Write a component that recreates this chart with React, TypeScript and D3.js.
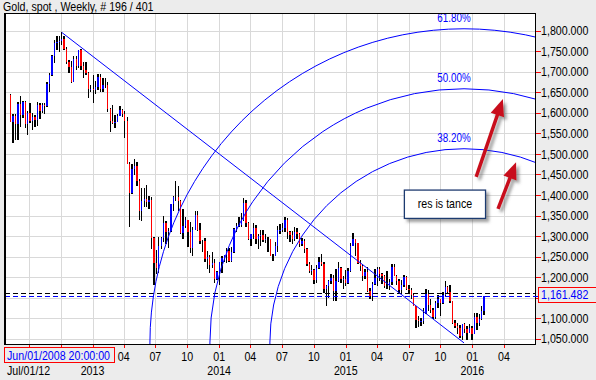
import React from 'react';
import * as d3 from 'd3';

const W = 596;
const H = 380;
const PLOT = { left: 5, right: 535, top: 14, bottom: 344 };
const FONT = "'Liberation Sans', Arial, sans-serif";
const NARROW = 0.82;

const TITLE = 'Gold, spot , Weekly, # 196 / 401';
const FIRST_WEEK = Date.UTC(2012, 4, 7);

// Weekly OHLC, gold spot, week of May 7 2012 .. week of Feb 1 2016
const opens = [
  1644, 1578, 1592, 1572, 1622, 1595, 1627, 1572, 1599, 1579, 1590, 1583, 1619, 1604, 1620, 1617, 1671, 1692, 1738, 1771,
  1773, 1774, 1781, 1756, 1724, 1712, 1676, 1730, 1715, 1752, 1713, 1704, 1697, 1657, 1657,
  1656, 1663, 1687, 1657, 1669, 1667, 1609, 1581, 1576, 1578, 1592, 1606, 1597, 1579, 1476, 1405, 1463, 1470, 1433, 1362,
  1386, 1391, 1383, 1387, 1295, 1234, 1223, 1277, 1295, 1332, 1309, 1313, 1377, 1395, 1396, 1386, 1308, 1325, 1338, 1310,
  1272, 1315, 1352, 1314, 1287, 1288, 1244, 1250, 1230, 1234, 1195, 1212,
  1238, 1247, 1254, 1264, 1240, 1262, 1318, 1324, 1327, 1339, 1380, 1333, 1294, 1304, 1319, 1294, 1301, 1302, 1291, 1294,
  1292, 1251, 1252, 1275, 1316, 1316, 1320, 1338, 1310, 1303, 1294, 1310, 1305, 1280, 1287, 1268, 1231, 1216, 1218, 1192,
  1222, 1238, 1231, 1170, 1178, 1190, 1197, 1167, 1191, 1222, 1195, 1195,
  1186, 1216, 1277, 1293, 1283, 1234, 1227, 1204, 1213, 1166, 1153, 1184, 1199, 1219, 1207, 1202, 1178, 1179, 1189, 1225,
  1204, 1190, 1168, 1181, 1201, 1172, 1168, 1157, 1131, 1096, 1094, 1094, 1113, 1160, 1133, 1121, 1103, 1138, 1146, 1137,
  1156, 1177, 1163, 1142, 1088, 1081, 1076, 1057, 1086, 1075, 1065, 1076,
  1061, 1104, 1089, 1097, 1117,
];
const highs = [
  1645, 1597, 1596, 1627, 1640, 1630, 1628, 1605, 1625, 1599, 1594, 1627, 1625, 1625, 1624, 1675, 1696, 1740, 1778, 1787,
  1786, 1796, 1786, 1760, 1728, 1726, 1738, 1738, 1754, 1755, 1723, 1725, 1700, 1668, 1693,
  1678, 1695, 1694, 1684, 1684, 1674, 1611, 1619, 1595, 1597, 1616, 1609, 1605, 1590, 1480, 1476, 1488, 1481, 1440, 1416,
  1418, 1424, 1397, 1395, 1297, 1267, 1298, 1298, 1348, 1336, 1320, 1379, 1397, 1434, 1423, 1387, 1367, 1346, 1339, 1335,
  1323, 1361, 1362, 1331, 1291, 1295, 1263, 1254, 1262, 1245, 1216, 1238,
  1251, 1255, 1270, 1270, 1273, 1320, 1332, 1346, 1355, 1392, 1387, 1335, 1306, 1331, 1327, 1304, 1315, 1315, 1305, 1297,
  1293, 1256, 1285, 1325, 1330, 1332, 1346, 1345, 1312, 1312, 1322, 1320, 1307, 1296, 1292, 1270, 1238, 1229, 1220, 1230,
  1249, 1256, 1237, 1180, 1194, 1207, 1205, 1221, 1238, 1225, 1203, 1217,
  1223, 1282, 1307, 1294, 1284, 1243, 1231, 1220, 1224, 1174, 1189, 1219, 1224, 1224, 1209, 1205, 1214, 1195, 1232, 1232,
  1206, 1196, 1193, 1205, 1204, 1180, 1174, 1160, 1131, 1105, 1100, 1126, 1170, 1169, 1147, 1124, 1143, 1156, 1146, 1163,
  1191, 1178, 1180, 1142, 1096, 1089, 1083, 1086, 1089, 1080, 1085, 1082,
  1113, 1112, 1111, 1130, 1153,
];
const lows = [
  1577, 1527, 1533, 1533, 1566, 1588, 1562, 1547, 1576, 1558, 1565, 1567, 1585, 1599, 1598, 1615, 1651, 1690, 1722, 1754,
  1748, 1764, 1753, 1718, 1697, 1672, 1674, 1705, 1710, 1705, 1684, 1692, 1636, 1651, 1625,
  1645, 1656, 1651, 1651, 1660, 1603, 1554, 1572, 1562, 1577, 1592, 1590, 1540, 1476, 1321, 1403, 1448, 1422, 1338, 1336,
  1372, 1371, 1366, 1268, 1180, 1207, 1211, 1268, 1285, 1280, 1270, 1310, 1360, 1385, 1361, 1306, 1293, 1319, 1273, 1259,
  1251, 1315, 1312, 1280, 1262, 1237, 1221, 1211, 1222, 1185, 1193, 1182,
  1211, 1236, 1235, 1238, 1238, 1260, 1309, 1322, 1322, 1336, 1323, 1290, 1277, 1294, 1281, 1268, 1277, 1286, 1284, 1262,
  1251, 1240, 1251, 1261, 1304, 1309, 1311, 1292, 1286, 1280, 1288, 1294, 1273, 1275, 1260, 1227, 1209, 1206, 1183, 1187,
  1220, 1228, 1161, 1131, 1149, 1184, 1142, 1142, 1188, 1186, 1171, 1179,
  1184, 1213, 1275, 1252, 1233, 1216, 1191, 1195, 1164, 1147, 1142, 1180, 1178, 1191, 1183, 1174, 1170, 1168, 1182, 1202,
  1180, 1162, 1162, 1175, 1168, 1162, 1146, 1131, 1077, 1078, 1080, 1085, 1111, 1118, 1112, 1098, 1098, 1125, 1105, 1134,
  1155, 1161, 1137, 1085, 1077, 1062, 1052, 1046, 1063, 1046, 1063, 1047,
  1061, 1071, 1080, 1096, 1108,
];
const closes = [
  1578, 1592, 1572, 1622, 1595, 1627, 1572, 1599, 1579, 1590, 1583, 1619, 1604, 1620, 1617, 1671, 1692, 1738, 1771, 1773,
  1774, 1781, 1756, 1724, 1712, 1676, 1730, 1715, 1752, 1713, 1704, 1697, 1657, 1657, 1656,
  1663, 1687, 1657, 1669, 1667, 1609, 1581, 1576, 1578, 1592, 1606, 1597, 1579, 1476, 1405, 1463, 1470, 1433, 1362, 1386,
  1391, 1383, 1387, 1295, 1234, 1223, 1277, 1295, 1332, 1309, 1313, 1377, 1395, 1396, 1386, 1308, 1325, 1338, 1310, 1272,
  1315, 1352, 1314, 1287, 1288, 1244, 1250, 1230, 1234, 1195, 1212, 1238,
  1247, 1254, 1264, 1240, 1262, 1318, 1324, 1327, 1339, 1380, 1333, 1294, 1304, 1319, 1294, 1301, 1302, 1291, 1294, 1292,
  1251, 1252, 1275, 1316, 1316, 1320, 1338, 1310, 1303, 1294, 1310, 1305, 1280, 1287, 1268, 1231, 1216, 1218, 1192, 1222,
  1238, 1231, 1170, 1178, 1190, 1197, 1167, 1191, 1222, 1195, 1195, 1186,
  1216, 1277, 1293, 1283, 1234, 1227, 1204, 1213, 1166, 1153, 1184, 1199, 1219, 1207, 1202, 1178, 1179, 1189, 1225, 1204,
  1190, 1168, 1181, 1201, 1172, 1168, 1157, 1131, 1096, 1094, 1094, 1113, 1160, 1133, 1121, 1103, 1138, 1146, 1137, 1156,
  1177, 1163, 1142, 1088, 1081, 1076, 1057, 1086, 1075, 1065, 1076, 1061,
  1104, 1089, 1097, 1118, 1153,
];

// Reference levels
const LAST_PRICE = 1153;
const CURSOR_PRICE = 1161.482;
const CURSOR_LABEL = '1,161.482';
const CURSOR_DATE_LABEL = 'Jun/01/2008 20:00:00';
const FIRST_TICK_LABEL = 'Jul/01/12';

// Fibonacci arcs: anchors (high -> low) and ratios
const fibHigh = { date: Date.UTC(2012, 9, 4), value: 1796 };
const fibLow = { date: Date.UTC(2015, 11, 8), value: 1040 };
const fibRatios = [0.382, 0.5, 0.618];
const fibLabels = ['38.20%', '50.00%', '61.80%'];

// Annotations (data coordinates)
const noteBox = { x0: Date.UTC(2015, 5, 19), x1: Date.UTC(2016, 1, 8), v0: 1412, v1: 1343, text: 'res is tance' };
const arrows = [
  { from: { date: Date.UTC(2016, 0, 12), value: 1444 }, to: { date: Date.UTC(2016, 2, 29), value: 1634 } },
  { from: { date: Date.UTC(2016, 2, 15), value: 1366 }, to: { date: Date.UTC(2016, 4, 6), value: 1480 } },
];

const yTicks = d3.range(1050, 1801, 50);

type NTProps = {
  x: number; y: number; size: number; fill?: string; anchor?: 'start' | 'middle' | 'end'; children: React.ReactNode;
};
function NText({ x, y, size, fill = '#000', anchor = 'start', children }: NTProps) {
  return (
    <text transform={`translate(${x},${y}) scale(${NARROW},1)`} fontSize={size} fill={fill} textAnchor={anchor}>
      {children}
    </text>
  );
}

export default function App() {
  const x = d3.scaleUtc()
    .domain([new Date(Date.UTC(2012, 3, 23, 16)), new Date(Date.UTC(2016, 5, 29, 14))])
    .range([PLOT.left, PLOT.right]);
  const y = d3.scaleLinear().domain([1037.3, 1840.65]).range([PLOT.bottom, PLOT.top]);

  const DAY = 864e5;
  const bars = opens.map((o, i) => {
    const d = FIRST_WEEK + i * 7 * DAY;
    return { cx: x(new Date(d + 3 * DAY)), o, h: highs[i], l: lows[i], c: closes[i] };
  });

  const xTicks = x.ticks(d3.utcMonth.every(3)!);
  const fmt = d3.format(',.3f');

  const hx = x(new Date(fibHigh.date)), hy = y(fibHigh.value);
  const lx = x(new Date(fibLow.date)), ly = y(fibLow.value);
  const dist = Math.hypot(hx - lx, hy - ly);

  const bx0 = x(new Date(noteBox.x0)), bx1 = x(new Date(noteBox.x1));
  const by0 = y(noteBox.v0), by1 = y(noteBox.v1);

  const arrowShapes = arrows.map((a) => {
    const x1 = x(new Date(a.from.date)), y1 = y(a.from.value);
    const x2 = x(new Date(a.to.date)), y2 = y(a.to.value);
    const len = Math.hypot(x2 - x1, y2 - y1);
    const ux = (x2 - x1) / len, uy = (y2 - y1) / len;
    const hl = 17, hw = 7;
    const bxp = x2 - ux * hl, byp = y2 - uy * hl;
    const pts = [
      [x2, y2],
      [bxp - uy * hw, byp + ux * hw],
      [bxp + uy * hw, byp - ux * hw],
    ];
    return { x1, y1, sx: x2 - ux * (hl - 2), sy: y2 - uy * (hl - 2), pts };
  });

  const bg = '#ececec';
  const grid = '#d9d9d9';
  const DATE_BOX_RIGHT = 115;

  return (
    <svg width={W} height={H} style={{ position: 'absolute', left: 0, top: 0, display: 'block' }} fontFamily={FONT}>
      <defs>
        <clipPath id="plotClip">
          <rect x={PLOT.left} y={PLOT.top} width={PLOT.right - PLOT.left} height={PLOT.bottom - PLOT.top} />
        </clipPath>
        <filter id="shadow" x="-30%" y="-30%" width="160%" height="160%">
          <feDropShadow dx="3" dy="3" stdDeviation="1.5" floodColor="#555" floodOpacity="0.55" />
        </filter>
      </defs>
      <rect x={0} y={0} width={W} height={H} fill={bg} />
      <rect x={PLOT.left} y={PLOT.top} width={PLOT.right - PLOT.left} height={PLOT.bottom - PLOT.top} fill="#fff" />

      {/* grid */}
      <g shapeRendering="crispEdges" stroke={grid} strokeWidth={1}>
        {xTicks.map((t, i) => (
          <line key={'gx' + i} x1={Math.round(x(t)) + 0.5} x2={Math.round(x(t)) + 0.5} y1={PLOT.top} y2={PLOT.bottom} />
        ))}
        {yTicks.map((v) => (
          <line key={'gy' + v} x1={PLOT.left} x2={PLOT.right} y1={Math.round(y(v)) + 0.5} y2={Math.round(y(v)) + 0.5} />
        ))}
      </g>

      <g clipPath="url(#plotClip)">
        {/* candles */}
        <g shapeRendering="crispEdges">
          {bars.map((b, i) => (
            <g key={'b' + i}>
              <line x1={b.cx} x2={b.cx} y1={y(b.h)} y2={y(b.l)} stroke="#000" strokeWidth={1.4} />
              <line x1={b.cx} x2={b.cx} y1={y(b.o)} y2={y(b.c) + (b.o === b.c ? 1 : 0)}
                stroke={b.c >= b.o ? '#0000ff' : '#ff0000'} strokeWidth={1.4} />
            </g>
          ))}
        </g>

        {/* reference lines */}
        <line x1={PLOT.left} x2={PLOT.right} y1={Math.round(y(CURSOR_PRICE)) + 0.5} y2={Math.round(y(CURSOR_PRICE)) + 0.5}
          stroke="#000" strokeDasharray="5,3" shapeRendering="crispEdges" />
        <line x1={PLOT.left} x2={PLOT.right} y1={Math.round(y(LAST_PRICE)) + 0.5} y2={Math.round(y(LAST_PRICE)) + 0.5}
          stroke="#0000ff" strokeDasharray="5,3" shapeRendering="crispEdges" />

        {/* trend line */}
        <line x1={hx} y1={hy} x2={lx} y2={ly} stroke="#0000ff" strokeWidth={1} />

        {/* fib arcs */}
        {fibRatios.map((r, i) => (
          <circle key={'arc' + i} cx={lx} cy={ly} r={r * dist} fill="none" stroke="#0000ff" strokeWidth={1} />
        ))}
        {fibRatios.map((r, i) => (
          <NText key={'al' + i} x={lx - 10} y={ly - r * dist - 7} size={12} fill="#0000ff" anchor="middle">
            {fibLabels[i]}
          </NText>
        ))}

        {/* annotations */}
        <g filter="url(#shadow)">
          <rect x={bx0} y={by0} width={bx1 - bx0} height={by1 - by0} fill="#fff" stroke="#1f3b70" strokeWidth={1.3} />
        </g>
        <NText x={(bx0 + bx1) / 2} y={(by0 + by1) / 2 + 4} size={13} anchor="middle">
          {noteBox.text}
        </NText>
        {arrowShapes.map((a, i) => (
          <g key={'ar' + i} filter="url(#shadow)">
            <line x1={a.x1} y1={a.y1} x2={a.sx} y2={a.sy} stroke="#c8101c" strokeWidth={3.5} />
            <polygon points={a.pts.map((p) => p.join(',')).join(' ')} fill="#c8101c" />
          </g>
        ))}
      </g>

      {/* plot frame */}
      <rect x={PLOT.left - 0.5} y={PLOT.top - 0.5} width={PLOT.right - PLOT.left + 1} height={PLOT.bottom - PLOT.top + 1}
        fill="none" stroke="#000" strokeWidth={1} shapeRendering="crispEdges" />
      <line x1={PLOT.left - 0.5} x2={PLOT.left - 0.5} y1={PLOT.top} y2={PLOT.bottom} stroke="#000" strokeWidth={2} shapeRendering="crispEdges" />

      {/* right axis */}
      <g shapeRendering="crispEdges">
        {yTicks.map((v) => (
          <line key={'ty' + v} x1={PLOT.right + 1} x2={PLOT.right + 6} y1={Math.round(y(v)) + 0.5} y2={Math.round(y(v)) + 0.5} stroke="#ff0000" />
        ))}
      </g>
      {yTicks.filter((v) => Math.abs(y(v) - y(CURSOR_PRICE)) > 9).map((v) => (
        <NText key={'ly' + v} x={PLOT.right + 6} y={y(v) + 4.6} size={13}>{fmt(v)}</NText>
      ))}
      <line x1={PLOT.right} x2={PLOT.right + 3} y1={Math.round(y(LAST_PRICE)) + 0.5} y2={Math.round(y(LAST_PRICE)) + 0.5} stroke="#0000ff" />
      <rect x={PLOT.right + 3.5} y={Math.round(y(CURSOR_PRICE)) - 5.5} width={62} height={15} fill={bg} stroke="#ff0000" shapeRendering="crispEdges" />
      <NText x={PLOT.right + 6} y={y(CURSOR_PRICE) + 6.2} size={13} fill="#0000ff">{CURSOR_LABEL}</NText>

      {/* bottom axis */}
      <g shapeRendering="crispEdges">
        {xTicks.map((t, i) => (
          <line key={'tx' + i} x1={Math.round(x(t)) + 0.5} x2={Math.round(x(t)) + 0.5} y1={PLOT.bottom + 1} y2={PLOT.bottom + 4} stroke="#ff0000" />
        ))}
      </g>
      {xTicks.filter((t) => x(t) > DATE_BOX_RIGHT + 6).map((t, i) => (
        <NText key={'lx' + i} x={x(t)} y={360.5} size={13} anchor="middle">
          {d3.utcFormat('%m')(t)}
        </NText>
      ))}
      {xTicks.filter((t) => t.getUTCMonth() === 0).map((t, i) => (
        <NText key={'yr' + i} x={x(t)} y={374.5} size={13} anchor="middle">
          {d3.utcFormat('%Y')(t)}
        </NText>
      ))}
      <NText x={7} y={374.5} size={13}>{FIRST_TICK_LABEL}</NText>
      <rect x={4.5} y={347.5} width={DATE_BOX_RIGHT - 5} height={15} fill={bg} stroke="#ff0000" shapeRendering="crispEdges" />
      <NText x={7} y={359.5} size={13} fill="#0000ff">{CURSOR_DATE_LABEL}</NText>

      {/* title */}
      <NText x={3} y={11} size={13}>{TITLE}</NText>
    </svg>
  );
}
